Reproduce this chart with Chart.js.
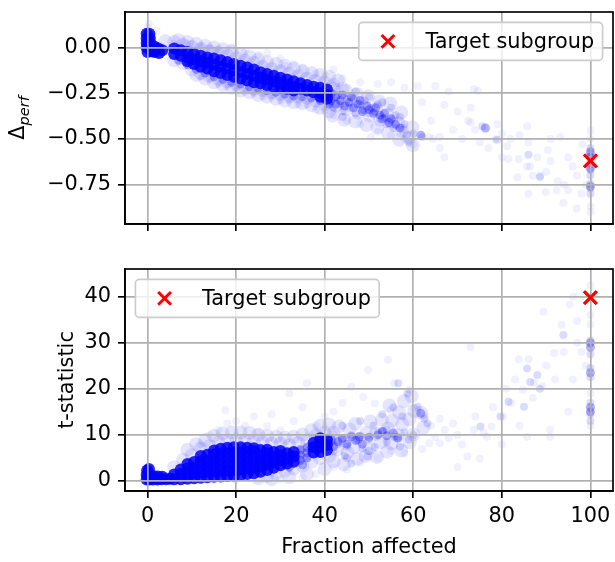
<!DOCTYPE html>
<html>
<head>
<meta charset="utf-8">
<script src="https://cdn.jsdelivr.net/npm/chart.js@4.4.0/dist/chart.umd.min.js"></script>
<style>
  html, body { margin: 0; padding: 0; background: #fff; overflow: hidden; width: 615px; height: 562px; }
  .panel { position: absolute; left: 0; }
  #top { top: 0; }
  #bottom { top: 250px; }
</style>
</head>
<body>
<div class="panel" id="top"><canvas id="perfChart" width="625" height="245"></canvas></div>
<div class="panel" id="bottom"><canvas id="tstatChart" width="625" height="312"></canvas></div>
<script>
const fractionTicks = [0, 20, 40, 60, 80, 100];
const perfTicks = [0, -0.25, -0.5, -0.75];
const tstatTicks = [0, 10, 20, 30, 40];
const targetLabel = 'Target subgroup';

// Δperf vs fraction affected, grouped by how thick the cloud is
const perfCore = [
  [-0.2,0.075],[0.4,0.075],[-0.2,0.05],[0.5,0.05],[-0.2,0.025],[0.6,0.025],[-0.2,0.0],[0.7,0.0],
  [0.0,-0.025],[0.9,-0.02],[1.5,0.005],[1.6,-0.025],[2.4,-0.005],[2.6,-0.03],[3.3,-0.015],
  [6,-0.005],[6,-0.035],[7.5,-0.015],[7.5,-0.045],
  [9,-0.025],[9,-0.055],[9,-0.075],[10.5,-0.035],[10.5,-0.065],[10.5,-0.09],
  [12,-0.045],[12,-0.075],[12,-0.105],[13.5,-0.055],[13.5,-0.085],[13.5,-0.115],
  [15,-0.06],[15,-0.095],[15,-0.13],[16.5,-0.07],[16.5,-0.105],[16.5,-0.14],
  [18,-0.08],[18,-0.115],[18,-0.15],[19.5,-0.09],[19.5,-0.125],[19.5,-0.16],
  [21,-0.1],[21,-0.135],[21,-0.17],[22.5,-0.11],[22.5,-0.145],[22.5,-0.18],
  [24,-0.12],[24,-0.155],[24,-0.19],[25.5,-0.135],[25.5,-0.165],[25.5,-0.195],
  [27,-0.145],[27,-0.175],[27,-0.205],[28.5,-0.155],[28.5,-0.185],[28.5,-0.215],
  [30,-0.165],[30,-0.195],[30,-0.22],[31.5,-0.175],[31.5,-0.205],[31.5,-0.225],
  [33,-0.185],[33,-0.215],[33,-0.235],[34.5,-0.195],[34.5,-0.225],
  [36,-0.205],[36,-0.235],[37.5,-0.215],[37.5,-0.245],
  [39,-0.22],[39,-0.25],[39,-0.27],[40.5,-0.23],[40.5,-0.26],[40.5,-0.28]
];
const perfHaze = [
  [4,0.035],[6,0.03],[8,0.015],[10,0.003],[12,-0.01],[14,-0.022],[16,-0.032],[18,-0.045],[20,-0.058],
  [22,-0.072],[24,-0.085],[26,-0.105],[28,-0.117],[30,-0.13],[32,-0.143],[34,-0.157],[36,-0.17],
  [38,-0.183],[40,-0.193],[42,-0.205],[44,-0.225],
  [7,0.04],[9,0.03],[11,0.02],[13,0.01],[15,0.0],[17,-0.01],[19,-0.02],[21,-0.035],[23,-0.05],
  [25,-0.065],[27,-0.08],[29,-0.09],[31,-0.1],[33,-0.115],[35,-0.13],[37,-0.14],[39,-0.15],[41,-0.16],[43,-0.18],
  [6,-0.07],[8,-0.085],[10,-0.12],[12,-0.14],[14,-0.155],[16,-0.172],[18,-0.185],[20,-0.198],[22,-0.212],
  [24,-0.225],[26,-0.233],[28,-0.245],[30,-0.255],[32,-0.265],[34,-0.27],[36,-0.275],[38,-0.29],[40,-0.31],
  [11,-0.15],[13,-0.17],[15,-0.19],[17,-0.205],[19,-0.22],[21,-0.235],[23,-0.245],[25,-0.26],[27,-0.27],
  [29,-0.28],[31,-0.29],[33,-0.3],[35,-0.305],[37,-0.315],[39,-0.33],[41,-0.35],
  [42,-0.225],[41.6,-0.268],[42.5,-0.318],[41.8,-0.372],[44.8,-0.236],[44.2,-0.294],[45,-0.338],[44.4,-0.395],
  [47.3,-0.255],[46.7,-0.296],[47.6,-0.357],[46.9,-0.404],[49.8,-0.266],[49.2,-0.327],[50.1,-0.372],[49.4,-0.424],
  [52.3,-0.295],[51.7,-0.336],[52.5,-0.395],[51.9,-0.436],[54.8,-0.306],[54.2,-0.368],[55,-0.405],[54.3,-0.466],
  [57.3,-0.356],[56.7,-0.414],[57.4,-0.455],[56.8,-0.505],[59.8,-0.436],[59.1,-0.494],[59.9,-0.535]
];
const perfDense = [
  [7,-0.07],[9,-0.095],[11,-0.12],[13,-0.14],[15,-0.16],[17,-0.175],[19,-0.19],[21,-0.2],[23,-0.215],
  [25,-0.225],[27,-0.235],[29,-0.245],[31,-0.255],[33,-0.265],[35,-0.27],[37,-0.275],[39,-0.29],[41,-0.31],
  [41.5,-0.25],[41.5,-0.29],[42.5,-0.27],[42.5,-0.31],[43.5,-0.29],[44,-0.26],[44.5,-0.32],[45.5,-0.3],
  [46,-0.27],[46.5,-0.33],[47.5,-0.31],[48,-0.29],[48.5,-0.35],[49.5,-0.32],[50,-0.34],[51,-0.36],
  [51.5,-0.33],[52.5,-0.37],[53,-0.39],[53.5,-0.36],[54.5,-0.41],[55,-0.39],[56,-0.42],[57,-0.44],
  [61.7,-0.48],[76.3,-0.44],[100,-0.57],[100,-0.6],[100,-0.66],[100,-0.76]
];
const perfMid = [
  [41,-0.3],[42,-0.33],[43,-0.26],[43.5,-0.31],[44,-0.35],[45,-0.28],[45.5,-0.33],[46.5,-0.28],[47,-0.36],
  [48,-0.31],[48.5,-0.34],[49,-0.29],[50,-0.36],[50.5,-0.33],[51.3,-0.35],[52,-0.31],[52.5,-0.39],
  [53.5,-0.385],[54,-0.42],[54.8,-0.4],[55.5,-0.44],[56,-0.37],[57.5,-0.45],[58.5,-0.48],[59,-0.52],
  [60,-0.47],[62,-0.49],[44,-0.38],[47,-0.24],[50,-0.27],[53,-0.3],[55,-0.33],[57,-0.38],[58,-0.42],
  [75.6,-0.43],[78.9,-0.505],[86,-0.586],[88.6,-0.708],
  [100,-0.55],[100,-0.58],[100,-0.64],[100,-0.67],[100,-0.7],[100,-0.745],[100,-0.77],[100,-0.8]
];
const perfFaint = [
  [0.3,0.13],[0.0,0.11],[2,0.09],[1,0.06],[6,0.02],[9,0.02],[12,0.01],[14,0.0],[16,-0.01],[19,0.0],
  [22,-0.02],[25,-0.04],[27,-0.03],[30,-0.06],[31,-0.1],[33,-0.09],[35,-0.11],[38,-0.14],
  [40,-0.15],[42,-0.12],[44,-0.17],[48,-0.19],[52,-0.2],[55,-0.19],[58,-0.22],[61,-0.21],[65,-0.21],
  [68,-0.24],[73.7,-0.227],[74.6,-0.236],
  [12,-0.16],[16,-0.2],[20,-0.23],[24,-0.25],[28,-0.27],[32,-0.29],[36,-0.31],[40,-0.34],
  [14,-0.17],[18,-0.21],[22,-0.24],[26,-0.27],[30,-0.29],[34,-0.31],[38,-0.34],[42,-0.37],[45,-0.4],
  [48,-0.42],[50.5,-0.49],[52,-0.46],[55,-0.48],[58,-0.5],[60,-0.53],
  [63.6,-0.49],[64.5,-0.5],[66,-0.49],[67,-0.315],[67,-0.6],[70,-0.35],[72.4,-0.4],[72.9,-0.41],[74,-0.45],
  [77,-0.55],[78.6,-0.5],[80,-0.47],[81.2,-0.54],[81.5,-0.61],[82,-0.5],[83.5,-0.71],[83.8,-0.61],
  [85.7,-0.43],[85.7,-0.65],[86,-0.52],[86.4,-0.65],[88,-0.6],[88.7,-0.7],[89.9,-0.79],[90.4,-0.56],
  [92.4,-0.78],[92.6,-0.73],[93.2,-0.49],[93.9,-0.85],[95,-0.6],[96.9,-0.88],[97,-0.7],[98,-0.8],
  [98.2,-0.53],[100,-0.455],[100,-0.5],[100,-0.87],[100,-0.9],
  [62,-0.3],[64,-0.4],[66,-0.55],[69,-0.45],[71,-0.5],[73,-0.33],[75,-0.52],[79,-0.42],[80,-0.6],
  [84,-0.48],[87,-0.7],[90,-0.68],[91,-0.62],[94,-0.75],[95,-0.78],[96,-0.65],[99,-0.75],[91,-0.5],[86,-0.8]
];
const perfTarget = [[100, -0.62]];

// t-statistic vs fraction affected
const tstatCore = [
  [-0.2,0.3],[0.4,0.3],[-0.2,1.3],[0.4,1.3],[-0.1,2.3],[0.3,2.6],[1.2,0.3],[1.3,1.1],[2.2,0.3],[2.3,1.0],
  [3.1,0.4],[3.3,0.9],[4.2,0.4],[5.1,0.5],
  [6,0.4],[6,1.4],[7.5,0.4],[7.5,1.5],[7.5,2.5],
  [9,0.5],[9,1.6],[9,2.7],[9,3.7],[10.5,0.6],[10.5,1.7],[10.5,2.9],[10.5,4.1],
  [12,0.7],[12,1.9],[12,3.1],[12,4.3],[12,5.4],[13.5,0.8],[13.5,2.0],[13.5,3.2],[13.5,4.4],[13.5,5.7],
  [15,0.9],[15,2.1],[15,3.3],[15,4.5],[15,5.8],[15,6.6],[16.5,1.0],[16.5,2.2],[16.5,3.4],[16.5,4.6],[16.5,5.9],[16.5,7.0],
  [18,1.1],[18,2.3],[18,3.5],[18,4.7],[18,6.0],[18,7.2],[19.5,1.2],[19.5,2.4],[19.5,3.6],[19.5,4.8],[19.5,6.1],[19.5,7.3],
  [21,1.3],[21,2.5],[21,3.7],[21,4.9],[21,6.2],[21,7.3],[22.5,1.5],[22.5,2.7],[22.5,3.9],[22.5,5.1],[22.5,6.3],[22.5,7.2],
  [24,1.7],[24,2.9],[24,4.1],[24,5.3],[24,6.5],[24,7.1],[25.5,2.0],[25.5,3.2],[25.5,4.4],[25.5,5.6],[25.5,6.7],
  [27,2.4],[27,3.6],[27,4.8],[27,6.0],[27,6.8],[28.5,2.9],[28.5,4.0],[28.5,5.2],[28.5,6.3],
  [30,3.4],[30,4.5],[30,5.6],[30,6.5],[31.5,3.8],[31.5,4.9],[31.5,6.0],[33,4.2],[33,5.3],[33,6.3],
  [37.5,6.2],[37.5,7.3],[37.5,8.3],[39,6.3],[39,7.4],[39,8.5],[39,9.3],[40.5,6.7],[40.5,7.8],[40.5,8.9]
];
const tstatHaze = [
  [6,3.0],[8,4.6],[10,5.6],[12,7.0],[14,7.6],[16,8.5],[18,8.8],[20,8.9],[22,8.8],[24,8.7],[26,8.4],
  [28,8.1],[30,8.1],[32,7.8],[34,8.3],[36,8.8],[38,9.9],[40,10.5],[42,10.5],
  [9,6.8],[11,8.0],[13,8.9],[15,9.8],[17,10.3],[19,10.5],[21,10.5],[23,10.4],[25,10.1],[27,9.8],
  [29,9.6],[31,9.4],[33,9.6],[35,10.1],[37,11.0],[39,12.0],[41,12.2],
  [25,0.6],[27,1.1],[29,1.6],[31,2.2],[33,2.7],[35,3.3],[37,4.2],[39,5.0],[41,5.4],
  [28,0.4],[32,0.8],[36,1.5],[40,2.6],
  [42,4.3],[42.8,6.9],[41.7,9.4],[43.2,11.8],[44.3,3.6],[45.1,6.2],[44.6,8.7],[45.6,11.2],
  [47.3,4.8],[46.6,7.3],[47.9,9.2],[46.9,12.4],[49.2,5.4],[50.1,7.1],[49.4,10.4],[50.3,12.9],
  [51.8,5.2],[52.6,8.4],[51.5,10.2],[52.9,13.3],[54.1,6.4],[55,8.2],[54.3,11.4],[55.2,13.1],[54.6,16.4],
  [57.3,6.6],[56.6,9.9],[57.5,12.3],[56.8,14.9],[57.9,17.3],[59.2,8.4],[60,10.1],[59.1,13.4],[60.2,15.2],
  [59.6,18.4],[62.3,11.6],[61.8,14.8]
];
const tstatDense = [
  [34.5,4.5],[34.5,5.6],[34.5,6.7],[36,5.0],[36,6.1],[36,7.2],[32,3.0],[35,3.5],
  [41.5,9.0],[42,7.5],[43,8.5],[44,9.3],[45,8.0],[46,9.6],[47,8.8],[47.8,9.6],[48.5,8.0],[50,9.5],
  [52,10.0],[53,10.8],[54,9.8],[55.5,10.4],[56.5,9.3],[61.7,14.7],
  [100,29],[100,30],[100,16],[100,15],[100,23.5]
];
const tstatMid = [
  [31.5,4.2],[31.5,5.6],[33,4.5],[33,5.8],[34.5,4.7],[34.5,6.0],[34.5,7.0],[36,5.2],[36,6.5],[36,7.5],
  [41.6,8.5],[42,6.5],[43,8.0],[44,9.0],[44.5,5.5],[45,7.5],[46,3.8],[46,10],[47.5,8.9],[47.8,9.3],
  [48.5,7.0],[49.6,5.3],[50,9.0],[51.3,7.4],[52,10.5],[53.1,10.7],[54,11.1],[54,8.5],[55.7,9.6],
  [56.5,9.6],[57,7.5],[58,10.5],[59,9.0],[60,10],[62.5,13.5],[63.2,12.5],[61,16.1],
  [58.7,19],[56.6,21.2],[44,12],[48,13],[51,12],[53,14.5],[55.5,16],[57.5,14],[45,5],[50,6.5],
  [75.2,11.8],[79.7,14],[81.5,17.2],[85.7,24.4],[86.4,21.5],[88,23],[88.6,20],[85,16.1],[93.9,31.7],
  [100,13],[100,14.5],[100,17],[100,22.5],[100,24.5],[100,27.5],[100,30.5]
];
const tstatFaint = [
  [12,8],[14,10],[16,11],[18,12.5],[17.6,15.4],[20,13],[22,12],[24,14],[25,10.5],[27,12],[28,14.5],
  [30,11],[32,19],[33,13],[35,16],[36,21.2],[38,12],[40,14],[42,15],[44,17],[46,20.4],[48.7,18.2],
  [49.8,24.1],[51.3,16.8],[54.3,26.3],[54.8,15.4],[55.7,21.2],[59.2,19.8],[60.1,15.8],[62.7,14],
  [63.6,8.2],[65,9.5],[67.1,11.1],[68,9.3],[70,10],[72.2,5.3],[72.9,29.1],[73.7,11.1],[75,4.9],
  [75.9,10.4],[76.7,9.6],[77.7,11.8],[80.3,14],[82.1,16.9],[83.8,26.4],[84.7,19.8],[85.7,9.6],
  [86.1,26.4],[87.3,21.3],[89.1,20.6],[89.4,36.7],[90.9,9.6],[90.9,11.1],[91.8,27.8],[93.5,33.9],
  [95.3,38.3],[96.1,40],[97,34.7],[98,28],[96,22],[100,36],[100,40],[100,42.5],[100,34],[100,19],[100,12],
  [20,0.3],[25,0.5],[30,0.4],[35,0.8],[38,1.5],[42,3],[45,2.5],[48,4],[52,5],[55,6.5],[58,6],[62,7],[66,8.2],
  [64,12],[66,13.5],[69,12.5],[71,8],[74,14],[78,16],[81,20],[83,22],[84,12],[87,18],[90,25],[92,22],
  [94,28],[95,15],[97,30],[99,25],[70,3],[80,8]
];
const tstatTarget = [[100, 39.8]];

const FS = 20.83;
const FONT = "'DejaVu Sans', sans-serif";
Chart.defaults.font.family = FONT;
Chart.defaults.font.size = FS;
Chart.defaults.color = '#000';

const pts = arr => arr.map(([x, y]) => ({ x, y }));

function cloud(data, alpha, radius) {
  return {
    data: pts(data),
    backgroundColor: 'rgba(0,0,255,' + alpha + ')',
    borderWidth: 0,
    pointRadius: radius,
    pointHoverRadius: radius
  };
}

function target(data) {
  return {
    label: targetLabel,
    data: pts(data),
    pointStyle: 'crossRot',
    pointRadius: 9,
    borderColor: '#ff0000',
    backgroundColor: '#ff0000',
    borderWidth: 3,
    onTop: true
  };
}

const gridOpts = { color: '#b0b0b0', lineWidth: 1.67, drawTicks: true, tickLength: 7, tickColor: '#000', tickWidth: 1.67, z: 1 };
const borderOpts = { display: true, color: '#000', width: 1.67, z: 1 };
const tickFont = { family: FONT, size: FS };

function minus(v, digits) {
  return (v < 0 ? '\u2212' : '') + Math.abs(v).toFixed(digits);
}

function drawX(ctx, x, y) {
  const r = 6.4;
  ctx.save();
  ctx.strokeStyle = '#ff0000';
  ctx.lineWidth = 3;
  ctx.beginPath();
  ctx.moveTo(x - r, y - r); ctx.lineTo(x + r, y + r);
  ctx.moveTo(x + r, y - r); ctx.lineTo(x - r, y + r);
  ctx.stroke();
  ctx.restore();
}

function drawLegend(ctx, area, corner) {
  ctx.save();
  ctx.font = FS + 'px ' + FONT;
  const tw = ctx.measureText(targetLabel).width;
  const w = 0.4 * FS + 2 * FS + 0.8 * FS + tw + 0.4 * FS;
  const h = 38;
  const x0 = corner === 'ur' ? area.right - 10.4 - w : area.left + 10.4;
  const y0 = area.top + 10.4;
  const r = 4;
  ctx.beginPath();
  ctx.moveTo(x0 + r, y0);
  ctx.arcTo(x0 + w, y0, x0 + w, y0 + h, r);
  ctx.arcTo(x0 + w, y0 + h, x0, y0 + h, r);
  ctx.arcTo(x0, y0 + h, x0, y0, r);
  ctx.arcTo(x0, y0, x0 + w, y0, r);
  ctx.closePath();
  ctx.fillStyle = 'rgba(255,255,255,0.8)';
  ctx.fill();
  ctx.strokeStyle = '#cccccc';
  ctx.lineWidth = 1.67;
  ctx.stroke();
  drawX(ctx, x0 + 0.4 * FS + FS, y0 + h / 2);
  ctx.fillStyle = '#000';
  ctx.textBaseline = 'middle';
  ctx.textAlign = 'left';
  ctx.fillText(targetLabel, x0 + 3.2 * FS, y0 + h / 2 + 1);
  ctx.restore();
}

function decor(cfg) {
  return {
    id: 'decor',
    afterDraw(chart) {
      const ctx = chart.ctx;
      const area = chart.chartArea;
      // put the target marker back above the grid
      chart.data.datasets.forEach((ds, i) => {
        if (ds.onTop) chart.getDatasetMeta(i).controller.draw();
      });
      ctx.save();
      ctx.strokeStyle = '#000';
      ctx.lineWidth = 1.67;
      ctx.strokeRect(area.left, area.top, area.right - area.left, area.bottom - area.top);
      ctx.restore();
      drawLegend(ctx, area, cfg.legend);
      cfg.titles(ctx, area);
    }
  };
}

function panel(id, datasets, yTicks, yMin, yMax, digits, cfg) {
  return new Chart(document.getElementById(id), {
    type: 'scatter',
    data: { datasets },
    options: {
      responsive: false,
      animation: false,
      events: [],
      layout: { padding: cfg.padding },
      plugins: { legend: { display: false }, tooltip: { enabled: false } },
      scales: {
        x: {
          type: 'linear', min: -5.1, max: 105.1,
          afterBuildTicks: s => { s.ticks = fractionTicks.map(v => ({ value: v })); },
          afterFit: s => { s.height = cfg.xHeight; s.paddingLeft = 0; s.paddingRight = 0; },
          grid: gridOpts, border: borderOpts,
          ticks: { display: cfg.xLabels, padding: 6, autoSkip: false, maxRotation: 0, color: '#000',
                   font: tickFont, callback: v => String(v) }
        },
        y: {
          type: 'linear', min: yMin, max: yMax,
          afterBuildTicks: s => { s.ticks = yTicks.map(v => ({ value: v })); },
          afterFit: s => { s.width = 125; s.paddingTop = 0; s.paddingBottom = 0; },
          grid: gridOpts, border: borderOpts,
          ticks: { padding: 7, color: '#000', font: tickFont, callback: v => minus(v, digits) }
        }
      }
    },
    plugins: [decor(cfg)]
  });
}

panel('perfChart', [
  target(perfTarget),
  cloud(perfCore, 0.85, 6),
  cloud(perfDense, 0.3, 4.5),
  cloud(perfMid, 0.14, 4),
  cloud(perfHaze, 0.1, 7),
  cloud(perfFaint, 0.06, 4)
], perfTicks, -0.965, 0.194, 2, {
  padding: { top: 3, right: 8, left: 0, bottom: 0 },
  xHeight: 21,
  xLabels: false,
  legend: 'ur',
  titles: (ctx, area) => {
    ctx.save();
    ctx.translate(24, (area.top + area.bottom) / 2);
    ctx.rotate(-Math.PI / 2);
    ctx.fillStyle = '#000';
    ctx.font = FS + 'px ' + FONT;
    const dW = ctx.measureText('\u0394').width;
    ctx.font = 'italic ' + (FS * 0.7) + 'px ' + FONT;
    const sW = ctx.measureText('perf').width;
    const x0 = -(dW + sW) / 2;
    ctx.font = FS + 'px ' + FONT;
    ctx.fillText('\u0394', x0, 0);
    ctx.font = 'italic ' + (FS * 0.7) + 'px ' + FONT;
    ctx.fillText('perf', x0 + dW, 4.5);
    ctx.restore();
  }
});

panel('tstatChart', [
  target(tstatTarget),
  cloud(tstatCore, 0.85, 6),
  cloud(tstatDense, 0.3, 4.5),
  cloud(tstatMid, 0.14, 4),
  cloud(tstatHaze, 0.1, 7),
  cloud(tstatFaint, 0.06, 4)
], tstatTicks, -2.17, 46.0, 0, {
  padding: { top: 19, right: 8, left: 0, bottom: 0 },
  xHeight: 71,
  xLabels: true,
  legend: 'ul',
  titles: (ctx, area) => {
    ctx.save();
    ctx.fillStyle = '#000';
    ctx.font = FS + 'px ' + FONT;
    ctx.textAlign = 'center';
    ctx.textBaseline = 'alphabetic';
    ctx.fillText('Fraction affected', (area.left + area.right) / 2, 303);
    ctx.translate(73, (area.top + area.bottom) / 2);
    ctx.rotate(-Math.PI / 2);
    ctx.fillText('t-statistic', 0, 0);
    ctx.restore();
  }
});
</script>
</body>
</html>
